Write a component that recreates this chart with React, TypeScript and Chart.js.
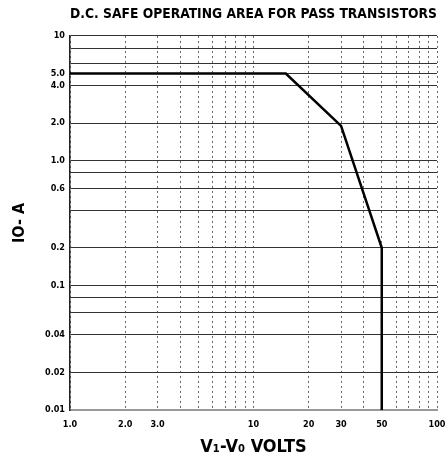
import React, { useEffect, useRef } from "react";
import { Chart, registerables } from "chart.js";

Chart.register(...registerables);

// Safe operating area boundary (V1-V0 volts, IO amps)
const voltsX = [1, 15, 30, 50, 50];
const ampsY = [5, 5, 1.9, 0.2, 0.01];

// Grid lines and tick labels
const xGridValues = [1, 2, 3, 4, 5, 6, 7, 8, 9, 10, 20, 30, 40, 50, 60, 70, 80, 90, 100];
const xLabelValues = [1, 2, 3, 10, 20, 30, 50, 100];
const xLabelTexts = ["1.0", "2.0", "3.0", "10", "20", "30", "50", "100"];

const yGridValues = [0.01, 0.02, 0.04, 0.06, 0.08, 0.1, 0.2, 0.4, 0.6, 0.8, 1, 2, 4, 5, 6, 8, 10];
const yLabelValues = [0.01, 0.02, 0.04, 0.1, 0.2, 0.6, 1, 2, 4, 5, 10];
const yLabelTexts = ["0.01", "0.02", "0.04", "0.1", "0.2", "0.6", "1.0", "2.0", "4.0", "5.0", "10"];

const titleText = "D.C. SAFE OPERATING AREA FOR PASS TRANSISTORS";
const xTitle = "V\u2081-V\u2080 VOLTS";
const yTitle = "IO- A";

const FONT = "'Liberation Sans Narrow', 'DejaVu Sans Condensed', 'Liberation Sans', sans-serif";

function labelFor(values: number[], texts: string[], v: number): string {
  const i = values.findIndex((x) => Math.abs(x - v) < 1e-9);
  return i >= 0 ? texts[i] : "";
}

export default function App() {
  const ref = useRef<HTMLCanvasElement | null>(null);

  useEffect(() => {
    document.body.style.margin = "0";
    if (!ref.current) return;
    const chart = new Chart(ref.current, {
      type: "scatter",
      data: {
        datasets: [
          {
            data: voltsX.map((x, i) => ({ x, y: ampsY[i] })),
            showLine: true,
            borderColor: "#000",
            borderWidth: 2.5,
            pointRadius: 0,
            tension: 0,
          },
        ],
      },
      options: {
        animation: false,
        responsive: false,
        layout: { padding: { left: 0, right: 9, top: 0, bottom: 0 } },
        plugins: {
          legend: { display: false },
          tooltip: { enabled: false },
          title: {
            display: true,
            text: titleText,
            fullSize: false,
            color: "#000",
            font: { family: FONT, size: 13.8, weight: "bold" },
            padding: { top: 6.5, bottom: 12.9 },
          },
        },
        scales: {
          x: {
            type: "logarithmic",
            min: 1,
            max: 100,
            afterBuildTicks: (scale: any) => {
              scale.ticks = xGridValues.map((v) => ({ value: v }));
            },
            afterFit: (scale: any) => {
              scale.height = 51;
              scale.paddingLeft = 0;
              scale.paddingRight = 0;
            },
            ticks: {
              autoSkip: false,
              maxRotation: 0,
              minRotation: 0,
              padding: 9,
              color: "#000",
              font: { family: FONT, size: 9, weight: "bold" },
              callback: (v: any) => labelFor(xLabelValues, xLabelTexts, Number(v)),
            },
            grid: { color: "#666", lineWidth: 1, drawTicks: false },
            border: { display: true, color: "#999", width: 2, dash: [2, 3] },
            title: {
              display: true,
              text: xTitle,
              color: "#000",
              font: { family: FONT, size: 18, weight: "bold" },
              padding: { top: 0, bottom: 3 },
            },
          },
          y: {
            type: "logarithmic",
            min: 0.01,
            max: 10,
            afterBuildTicks: (scale: any) => {
              scale.ticks = yGridValues.map((v) => ({ value: v }));
            },
            afterFit: (scale: any) => {
              scale.width = 70;
              scale.paddingTop = 0;
              scale.paddingBottom = 0;
            },
            ticks: {
              autoSkip: false,
              padding: 5,
              color: "#000",
              font: { family: FONT, size: 9, weight: "bold" },
              callback: (v: any) => labelFor(yLabelValues, yLabelTexts, Number(v)),
            },
            grid: { color: "#333", lineWidth: 1, drawTicks: false },
            border: { display: true, color: "#222", width: 1.5 },
            title: {
              display: true,
              text: yTitle,
              color: "#000",
              font: { family: FONT, size: 16, weight: "bold" },
              padding: { top: 10.4, bottom: 0 },
            },
          },
        },
      } as any,
    });
    return () => chart.destroy();
  }, []);

  return (
    <div style={{ width: 446, height: 461, background: "#fff" }}>
      <canvas ref={ref} width={446} height={461} style={{ display: "block" }} />
    </div>
  );
}
